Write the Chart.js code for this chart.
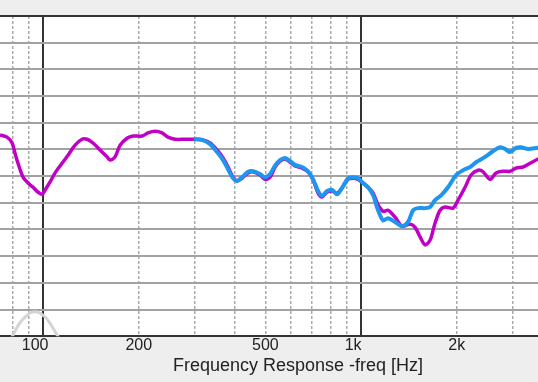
<!DOCTYPE html>
<html>
<head>
<meta charset="utf-8">
<script src="https://cdn.jsdelivr.net/npm/chart.js@4/dist/chart.umd.min.js"></script>
<style>
  html, body { margin: 0; padding: 0; background: #eeeeee; overflow: hidden; }
  #wrap { position: relative; width: 596px; height: 382px; }
</style>
</head>
<body>
<div id="wrap"><canvas id="c" width="596" height="382"></canvas></div>
<script>
// ---- data (frequency in Hz, level in dB) ----
const magentaFreq = [73.2, 77.0, 79.9, 81.6, 83.4, 86.5, 89.7, 93.0, 96.4, 99.3, 101.5, 105.2, 109.1, 114.7, 119.8, 126.1, 132.6, 137.5, 143.6, 151.1, 159.0, 162.4, 168.4, 174.7, 183.7, 191.9, 204.8, 213.9, 225.0, 236.7, 247.2, 260.1, 279.6, 298.4, 316.2, 335.1, 352.5, 368.1, 381.7, 395.8, 407.4, 422.5, 441.3, 457.5, 481.3, 499.0, 517.4, 536.5, 556.3, 576.8, 598.1, 620.1, 652.4, 681.3, 706.5, 732.5, 754.1, 781.9, 810.7, 840.5, 871.6, 910.2, 943.6, 978.6, 1014.6, 1052.0, 1090.8, 1131.0, 1172.7, 1215.9, 1279.2, 1345.8, 1426.1, 1478.6, 1533.1, 1589.8, 1648.2, 1708.9, 1771.8, 1837.4, 1947.3, 2018.4, 2123.3, 2217.7, 2333.4, 2419.6, 2545.1, 2658.3, 2797.0, 2941.8, 3072.3, 3231.6, 3399.5, 3602.1, 3750];
const magentaDb   = [77.7, 77.3, 76.2, 74.3, 72.4, 69.8, 68.7, 67.9, 67.0, 66.6, 67.4, 68.9, 70.6, 72.4, 73.9, 75.8, 76.9, 76.9, 76.2, 74.9, 73.6, 73.0, 73.6, 75.8, 77.1, 77.5, 77.5, 78.1, 78.4, 78.1, 77.3, 76.9, 76.9, 76.9, 76.8, 76.2, 74.9, 73.4, 71.7, 69.8, 69.1, 69.6, 70.6, 70.8, 70.2, 69.4, 69.8, 71.7, 72.8, 73.2, 72.6, 71.9, 71.5, 70.8, 69.3, 66.8, 66.1, 67.0, 67.2, 66.8, 67.8, 69.4, 69.6, 69.4, 68.7, 67.9, 66.8, 64.6, 63.4, 63.6, 62.3, 60.6, 61.0, 60.4, 58.6, 57.1, 58.0, 61.2, 63.6, 64.2, 64.0, 65.5, 67.9, 70.2, 71.1, 70.8, 69.4, 70.6, 70.9, 70.9, 71.5, 71.7, 72.4, 73.2, 73.6];

const blueFreq = [298.4, 316.2, 335.1, 352.5, 368.1, 381.7, 395.8, 407.4, 422.5, 441.3, 457.5, 481.3, 499.0, 517.4, 536.5, 556.3, 576.8, 598.1, 620.1, 652.4, 681.3, 706.5, 732.5, 754.1, 781.9, 810.7, 840.5, 871.6, 910.2, 943.6, 978.6, 1014.6, 1052.0, 1090.8, 1131.0, 1172.7, 1215.9, 1279.2, 1345.8, 1405.0, 1457.5, 1511.0, 1589.8, 1648.2, 1708.9, 1784.8, 1877.4, 1989.9, 2093.0, 2201.6, 2299.5, 2454.4, 2601.6, 2735.3, 2836.2, 2941.8, 3072.3, 3185.0, 3350.0, 3602.0, 3750];
const blueDb   = [76.9, 76.8, 76.0, 74.5, 73.0, 71.3, 69.6, 69.1, 69.8, 70.8, 70.9, 70.4, 69.8, 70.4, 72.0, 73.0, 73.4, 72.8, 72.1, 71.7, 70.9, 69.4, 67.2, 66.3, 67.2, 67.4, 66.6, 67.8, 69.6, 69.8, 69.6, 68.7, 67.9, 66.4, 63.6, 61.7, 62.1, 61.4, 60.6, 61.4, 63.6, 64.0, 64.0, 64.2, 65.5, 66.4, 67.9, 70.2, 71.1, 71.7, 72.6, 73.6, 74.7, 75.4, 75.1, 74.5, 75.3, 75.4, 75.1, 75.3, 75.3];

const grayFreq = [78.7, 80.4, 84.7, 89.1, 92.3, 96.4, 101.5, 105.2, 110.7, 113.1];
const grayDb   = [39.3, 40.2, 42.6, 43.9, 44.5, 44.5, 43.6, 42.4, 40.2, 39.3];

// ---- axes ----
const freqMin = 73.2;
const freqMax = 5480;
const dbMin = 40;
const dbMax = 100;
const dbStep = 5;
const labelTicks = [100, 200, 500, 1000, 2000];
const labelTexts = ['100\u2003', '200', '500', '1k\u2003', '2k'];
const majorTicks = [100, 1000];
const minorTicks = [80, 90, 200, 300, 400, 500, 600, 700, 800, 900, 2000, 3000, 4000, 5000];
const axisTitle = 'Frequency Response -freq [Hz]';

const toPoints = (xs, ys) => xs.map((x, i) => ({ x: x, y: ys[i] }));

const bgPlugin = {
  id: 'bg',
  beforeDraw(chart) {
    const { ctx, chartArea: a } = chart;
    ctx.save();
    ctx.fillStyle = '#eeeeee';
    ctx.fillRect(0, 0, chart.width, chart.height);
    ctx.fillStyle = '#ffffff';
    ctx.fillRect(a.left, a.top, a.right - a.left, a.bottom - a.top);
    ctx.restore();
  }
};

const FONT = "'Liberation Sans', Arial, Helvetica, sans-serif";

new Chart(document.getElementById('c'), {
  type: 'line',
  data: {
    datasets: [
      { data: toPoints(blueFreq, blueDb), borderColor: '#1e96f0', borderWidth: 4, pointRadius: 0, tension: 0.3, order: 0 },
      { data: toPoints(magentaFreq, magentaDb), borderColor: '#c000c4', borderWidth: 3.5, pointRadius: 0, tension: 0.3, order: 1 },
      { data: toPoints(grayFreq, grayDb), borderColor: '#d4d4d4', borderWidth: 3, pointRadius: 0, tension: 0.4, order: 2 }
    ]
  },
  options: {
    responsive: false,
    animation: false,
    layout: { padding: { top: 16, left: 0, right: 0, bottom: 0 } },
    plugins: { legend: { display: false }, tooltip: { enabled: false } },
    scales: {
      x: {
        type: 'logarithmic',
        position: 'bottom',
        min: freqMin,
        max: freqMax,
        afterBuildTicks(scale) { scale.ticks = labelTicks.map(v => ({ value: v })); },
        ticks: {
          autoSkip: false,
          maxRotation: 0,
          padding: 0,
          color: '#222',
          font: { family: FONT, size: 16 },
          callback(value) { const i = labelTicks.indexOf(value); return i >= 0 ? labelTexts[i] : ''; }
        },
        grid: {
          drawTicks: false,
          lineWidth: 2,
          color(ctx) { return ctx.tick && majorTicks.includes(ctx.tick.value) ? '#333333' : 'rgba(0,0,0,0)'; }
        },
        border: { display: true, color: '#333333', width: 2 },
        title: {
          display: true,
          text: axisTitle,
          color: '#222',
          font: { family: FONT, size: 18 },
          padding: { top: 0, bottom: 5 }
        }
      },
      x2: {
        type: 'logarithmic',
        position: 'bottom',
        min: freqMin,
        max: freqMax,
        afterBuildTicks(scale) { scale.ticks = minorTicks.map(v => ({ value: v })); },
        ticks: { display: false },
        grid: { drawTicks: false, lineWidth: 1.5, color: '#ababab' },
        border: { display: false, dash: [3, 2] }
      },
      y: {
        type: 'linear',
        min: dbMin,
        max: dbMax,
        ticks: { display: false, stepSize: dbStep },
        grid: {
          drawTicks: false,
          lineWidth: 2,
          color(ctx) { return ctx.tick && (ctx.tick.value === dbMax || ctx.tick.value === dbMin) ? '#333333' : '#a2a2a2'; }
        },
        border: { display: false }
      }
    }
  },
  plugins: [bgPlugin]
});
</script>
</body>
</html>
